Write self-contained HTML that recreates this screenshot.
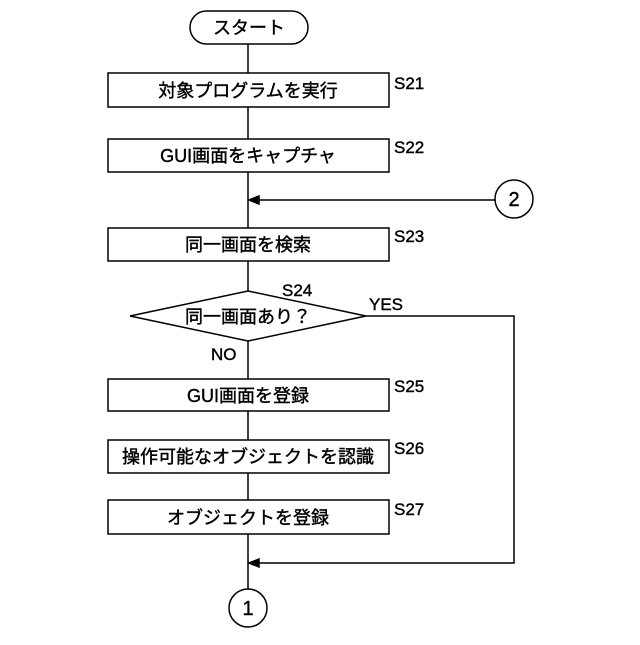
<!DOCTYPE html>
<html><head><meta charset="utf-8"><style>body{margin:0;background:#fff}</style></head><body>
<svg width="640" height="640" xmlns="http://www.w3.org/2000/svg" font-family="Liberation Sans, Noto Sans CJK JP, sans-serif" fill="none" stroke="#000" stroke-width="1.5">
<rect x="190" y="11" width="118" height="33" rx="16.5"/>
<line x1="248" y1="44" x2="248" y2="73"/>
<rect x="108" y="73" width="281" height="34"/>
<line x1="248" y1="107" x2="248" y2="139"/>
<rect x="108" y="139" width="281" height="33"/>
<line x1="248" y1="172" x2="248" y2="228"/>
<line x1="256" y1="200" x2="495" y2="200"/>
<polygon points="249,200 259,196 259,204" fill="#000"/>
<circle cx="514" cy="199" r="19"/>
<rect x="108" y="228" width="281" height="33"/>
<line x1="248" y1="261" x2="248" y2="291"/>
<polygon points="248,291 366,316 248,341 130,316"/>
<polyline points="366,316 514,316 514,563 256,563"/>
<polygon points="249,563 259,559 259,567" fill="#000"/>
<line x1="248" y1="341" x2="248" y2="379"/>
<rect x="108" y="379" width="281" height="32"/>
<line x1="248" y1="411" x2="248" y2="440"/>
<rect x="108" y="440" width="281" height="33"/>
<line x1="248" y1="473" x2="248" y2="500"/>
<rect x="108" y="500" width="281" height="34"/>
<line x1="248" y1="534" x2="248" y2="589"/>
<circle cx="248" cy="608" r="19"/>
<g fill="#000" stroke="#000" stroke-width="0.4" font-size="18" text-anchor="middle">
<text x="249" y="34">スタート</text>
<text x="248" y="97">対象プログラムを実行</text>
<text x="248" y="162">GUI画面をキャプチャ</text>
<text x="248" y="251">同一画面を検索</text>
<text x="248" y="323">同一画面あり？</text>
<text x="248" y="402">GUI画面を登録</text>
<text x="248" y="463">操作可能なオブジェクトを認識</text>
<text x="248" y="524">オブジェクトを登録</text>
<text x="514" y="206" font-size="20">2</text>
<text x="248" y="615" font-size="20">1</text>
</g>
<g fill="#000" stroke="#000" stroke-width="0.4" font-size="17">
<text x="394" y="89">S21</text>
<text x="394" y="153">S22</text>
<text x="394" y="242">S23</text>
<text x="282" y="296">S24</text>
<text x="369" y="310">YES</text>
<text x="211" y="360">NO</text>
<text x="394" y="392">S25</text>
<text x="394" y="454">S26</text>
<text x="394" y="515">S27</text>
</g>
</svg>
</body></html>
